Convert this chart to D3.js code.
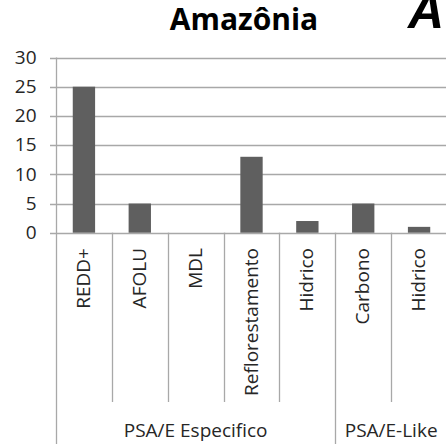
<!DOCTYPE html>
<html>
<head>
<meta charset="utf-8">
<script src="https://cdn.jsdelivr.net/npm/d3@7"></script>
<style>
  body { margin: 0; background: #fff; }
  svg { display: block; }
  text { font-family: "Open Sans", sans-serif; fill: #262626; }
</style>
</head>
<body>
<script>
const width = 446
const height = 444

// data
const categories = ['REDD+', 'AFOLU', 'MDL', 'Reflorestamento', 'Hidrico', 'Carbono', 'Hidrico ']
const values = [25, 5, 0, 13, 2, 5, 1]
const groups = ['PSA/E Especifico', 'PSA/E-Like']
const groupSizes = [5, 2]
const yTicks = [0, 5, 10, 15, 20, 25, 30]

const margin = {top: 57.5, left: 56, right: -1, axisBottom: 232.7}

const svg = d3.select('body').append('svg')
  .attr('width', width)
  .attr('height', height)

const x = d3.scaleBand()
  .domain(categories)
  .range([margin.left, width - margin.right])
  .paddingInner(0)
  .paddingOuter(0)

const y = d3.scaleLinear()
  .domain([0, 30])
  .range([margin.axisBottom, margin.top])

// title
svg.append('text')
  .attr('x', 244)
  .attr('y', 30)
  .attr('text-anchor', 'middle')
  .style('font-size', '30px')
  .style('font-weight', 'bold')
  .style('fill', '#000')
  .text('Amazônia')

// the cut off panel letter
svg.append('text')
  .attr('x', 408)
  .attr('y', 28)
  .style('font-family', '"Liberation Sans", Arial, sans-serif')
  .style('font-size', '50px')
  .style('font-weight', 'bold')
  .style('font-style', 'italic')
  .style('fill', '#000')
  .text('A')

// gridlines
svg.append('g')
  .selectAll('line')
  .data(yTicks)
  .join('line')
  .attr('x1', margin.left - 6)
  .attr('x2', width)
  .attr('y1', d => Math.round(y(d)) + 0.5)
  .attr('y2', d => Math.round(y(d)) + 0.5)
  .attr('stroke', '#a8a8a8')
  .attr('stroke-width', 1.3)

// y axis
const yAxis = svg.append('g')
  .attr('transform', `translate(${margin.left + 0.5},0)`)
  .call(d3.axisLeft(y).tickValues(yTicks).tickSize(0).tickPadding(20))
yAxis.select('.domain').remove()
yAxis.selectAll('text')
  .style('font-size', '19px')
  .style('font-family', '"Open Sans", sans-serif')
  .style('fill', '#262626')
  .attr('dy', '0.3em')

svg.append('line')
  .attr('x1', margin.left + 0.5)
  .attr('x2', margin.left + 0.5)
  .attr('y1', margin.top)
  .attr('y2', height)
  .attr('stroke', '#a8a8a8')
  .attr('stroke-width', 1.3)

// bars
svg.append('g')
  .selectAll('rect')
  .data(values)
  .join('rect')
  .attr('x', (d, i) => x(categories[i]) + x.bandwidth() * 0.3)
  .attr('width', x.bandwidth() * 0.4)
  .attr('y', d => y(d))
  .attr('height', d => y(0) - y(d))
  .attr('fill', '#5f5f5f')

// category separators and group separators
let start = 0
const groupEdges = [0]
groupSizes.forEach(n => { start += n; groupEdges.push(start) })

svg.append('g')
  .selectAll('line')
  .data(d3.range(1, categories.length + 1).filter(i => !groupEdges.includes(i)))
  .join('line')
  .attr('x1', i => Math.round(x(categories[i - 1]) + x.bandwidth()) + 0.5)
  .attr('x2', i => Math.round(x(categories[i - 1]) + x.bandwidth()) + 0.5)
  .attr('y1', margin.axisBottom)
  .attr('y2', 402)
  .attr('stroke', '#a8a8a8')
  .attr('stroke-width', 1.3)

svg.append('g')
  .selectAll('line')
  .data(groupEdges.slice(1))
  .join('line')
  .attr('x1', i => Math.round(x(categories[i - 1]) + x.bandwidth()) + 0.5)
  .attr('x2', i => Math.round(x(categories[i - 1]) + x.bandwidth()) + 0.5)
  .attr('y1', margin.axisBottom)
  .attr('y2', height)
  .attr('stroke', '#a8a8a8')
  .attr('stroke-width', 1.3)

// category labels
svg.append('g')
  .selectAll('text')
  .data(categories)
  .join('text')
  .attr('transform', d => `translate(${x(d) + x.bandwidth() / 2 + 6},248) rotate(-90)`)
  .attr('text-anchor', 'end')
  .style('font-size', '19px')
  .text(d => d.trim())

// group labels
svg.append('g')
  .selectAll('text')
  .data(groups)
  .join('text')
  .attr('x', (d, i) => {
    const a = x(categories[groupEdges[i]])
    const b = x(categories[groupEdges[i + 1] - 1]) + x.bandwidth()
    return (a + b) / 2
  })
  .attr('y', 437)
  .attr('text-anchor', 'middle')
  .style('font-size', '19px')
  .text(d => d)
</script>
</body>
</html>
